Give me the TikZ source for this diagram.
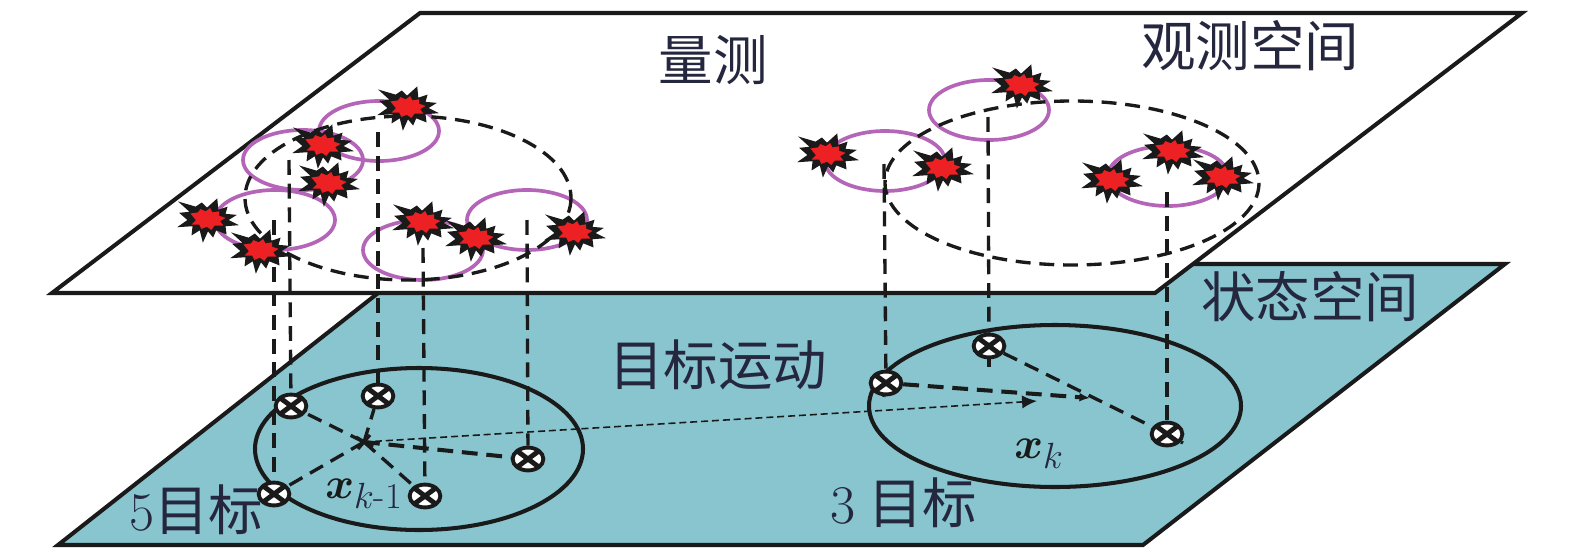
\documentclass[tikz,border=0pt]{standalone}
\usepackage{amsmath}
\usepackage{bm}
\usepackage{fontspec}
\newfontfamily\cjk{Noto Sans CJK SC}
\usetikzlibrary{arrows.meta}
\usetikzlibrary{shapes.geometric}
\tikzset{>=latex}
\definecolor{myink}{HTML}{1A1A1A}
\definecolor{mytext}{HTML}{25273F}
\definecolor{myteal}{HTML}{88C5CF}
\definecolor{mypurple}{HTML}{B565B8}
\definecolor{myred}{HTML}{ED2024}
\tikzstyle{plane}=[myink,line width=2.3pt,line join=miter]
\tikzstyle{gate}=[mypurple,line width=2.1pt]
\tikzstyle{group}=[myink,line width=1.9pt,dash pattern=on 8.5pt off 5pt]
\tikzstyle{link}=[myink,line width=1.9pt,dash pattern=on 8.5pt off 5pt]
\tikzstyle{track}=[myink,line width=2.3pt,dash pattern=on 9pt off 5pt]
\tikzstyle{label}=[mytext,inner sep=0pt,font=\fontsize{31}{31}\selectfont\cjk]
\tikzstyle{symbol}=[mytext,inner sep=0pt,font=\fontsize{30}{30}\selectfont]
\tikzset{
  target/.style={ellipse,draw=myink,fill=white,line width=2.2pt,inner sep=0pt,
                 minimum width=17.5pt,minimum height=13pt,
                 path picture={
                   \draw[myink,line width=2.8pt]
                     (path picture bounding box.north west) -- (path picture bounding box.south east)
                     (path picture bounding box.south west) -- (path picture bounding box.north east);}},
  burst/.pic={
    \fill[myink,scale=1.03] (-29,-17) -- (-12,-12) -- (-6,-16) -- (-1,-11) -- (9,-20) -- (10,-9)
      -- (19,-12) -- (17,-5) -- (28,-4) -- (20,1) -- (30,6) -- (17,7) -- (18,15) -- (8,11)
      -- (5,18) -- (0,12) -- (-5,23) -- (-8,11) -- (-16,16) -- (-15,7) -- (-30,8) -- (-20,1)
      -- (-28,-6) -- (-18,-7) -- cycle;
    \fill[myred,scale=1.1] (-16,-5) -- (-9,-6) -- (-7,-9) -- (-2,-7) -- (2,-10) -- (4,-6) -- (10,-7)
      -- (10,-3) -- (16,-1) -- (11,2) -- (14,6) -- (6,6) -- (3,10) -- (-1,7) -- (-6,9)
      -- (-8,5) -- (-15,5) -- (-11,1) -- cycle;
  }
}
\begin{document}
\begin{tikzpicture}[x=0.02cm,y=-0.02cm]
  \useasboundingbox (0,0) rectangle (1575,551);
  
  % PLANES
  \filldraw[plane,fill=myteal] (58,545) -- (415,264) -- (1505,264) -- (1143,545) -- cycle;
  \filldraw[plane,fill=white] (52,293) -- (420,13) -- (1522,13) -- (1155,293) -- cycle;
  
  % ELLIPSES
  \foreach \x/\y in {379/131,303/160,275/220,423/250,527/220,885/161,989/110,1168/176}{
    \draw[gate] (\x,\y) ellipse [x radius=60,y radius=30];
  }
  \draw[group] (408,198) ellipse [x radius=163,y radius=82];
  \draw[group] (1072,183) ellipse [x radius=187,y radius=82];
  \draw[plane] (419,449) ellipse [x radius=164,y radius=81];
  \draw[plane] (1055,406) ellipse [x radius=186,y radius=81];
  
  % TARGETS
  \node[target] (tA) at (291,406) {};
  \node[target] (tB) at (378,396) {};
  \node[target] (tC) at (528,459) {};
  \node[target] (tD) at (274,494) {};
  \node[target] (tE) at (425,496) {};
  \node[target] (uA) at (886,383) {};
  \node[target] (uB) at (989,346) {};
  \node[target] (uC) at (1167,434) {};
  \coordinate (cA) at (364,442);
  \coordinate (cB) at (1090,398);
  
  % LINES
  \foreach \x/\y/\t in {289/160/tA,378/132/tB,527/220/tC,274/220/tD,423/248/tE,
                        884/164/uA,988/117/uB,1167/192/uC}{
    \coordinate (top-\t) at (\x,\y);
    \draw[link] (top-\t) -- (\t);
  }
  \foreach \t in {tA,tB,tD,tE}{
    \draw[link] (cA) -- (\t);
  }
  \draw[track] (cA) -- (tC);
  \draw[myink,line width=1.8pt] (356,437) -- (373,447) (358,449) -- (370,435);
  \draw[track,-{Latex[length=6pt,width=5pt]}] (uA) -- (cB);
  \draw[link] (uB) -- (uC);
  \coordinate (uBs) at (989,367);
  \coordinate (uAs) at (884,397);
  \coordinate (uCs) at (1183,443);
  \draw[myink,line width=1.9pt] (uB) -- (uBs);
  \draw[myink,line width=1.9pt] (uA) -- (uAs);
  \draw[myink,line width=1.9pt] (uC) -- (uCs);
  \coordinate (cC) at (1037,401);
  \draw[myink,line width=0.9pt,dash pattern=on 4pt off 2.2pt,-{Latex[length=8.5pt,width=7.5pt]}] (cA) -- (cC);
  
  % BURSTS
  \foreach \x/\y in {408/107,323/145,329/183,208/219,261/250,423/222,476/238,575/232,
                     1022/85,828/154,943/168,1112/180,1173/151,1223/177}{
    \pic at (\x,\y) {burst};
  }
  
  % TEXT
  \node[label] (lMeas) at (713,60) {量测};
  \node[label] (lObs) at (1250,46) {观测空间};
  \node[label] (lState) at (1310,297) {状态空间};
  \node[label] (lMove) at (718,365) {目标运动};
  \node[label] (lFive) at (196,510) {{\rmfamily 5}目标};
  \node[label] (lThree) at (904,503) {{\rmfamily 3} 目标};
  \node[symbol] (lXa) at (364,494) {$\textcolor{myink}{\bm{x}}_{k\text{-}1}$};
  \node[symbol] (lXb) at (1039,454) {$\textcolor{myink}{\bm{x}}_{k}$};
  
\end{tikzpicture}
\end{document}
